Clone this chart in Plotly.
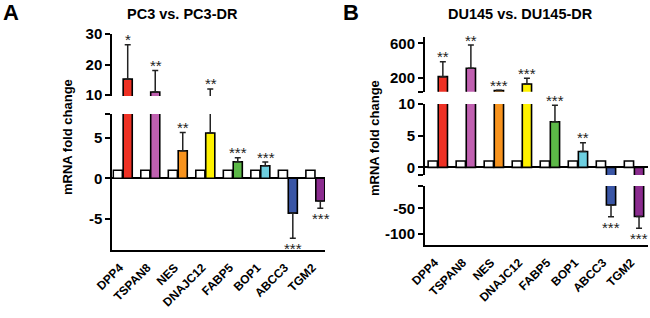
import plotly.graph_objects as go

genes = ['DPP4', 'TSPAN8', 'NES', 'DNAJC12', 'FABP5', 'BOP1', 'ABCC3', 'TGM2']
colors = ['#EE3124', '#C060B0', '#F7931E', '#FFF200', '#5CB847', '#6DCFE0', '#3A56A6', '#8B2C8F']

pc3_control = [1, 1, 1, 1, 1, 1, 1, 1]
pc3_fold = [15.2, 11.0, 3.4, 5.6, 2.05, 1.55, -4.3, -2.8]
pc3_err = [11.3, 7.0, 2.25, 6.4, 0.5, 0.45, 3.1, 0.9]
pc3_sig = ['*', '**', '**', '**', '***', '***', '***', '***']

du_control = [1, 1, 1, 1, 1, 1, 1, 1]
du_fold = [212, 309, 50, 127, 7.2, 2.5, -43.6, -66]
du_err = [174, 271, 3, 66, 2.6, 1.4, 22.7, 22.8]
du_sig = ['**', '**', '***', '***', '***', '**', '***', '***']

W, H = 650, 318
FONT = 'Liberation Sans, Arial, sans-serif'


def px_x(p):
    return p / W


def px_y(p):
    return 1 - p / H


fig = go.Figure()

segments = {
    'A': dict(x='x', xdom=(112.3, 325), xrange=[-0.38, 7.35], segs=[
        ('y', (34, 96), [9.67, 30], [10, 20, 30], ['10', '20', '30']),
        ('y2', (114, 250), [-8.85, 7.94], [-5, 0, 5, 7.94], ['-5', '0', '5', '']),
    ], control=pc3_control, fold=pc3_fold, err=pc3_err, sig=pc3_sig),
    'B': dict(x='x2', xdom=(425, 648), xrange=[-0.457, 7.5], segs=[
        ('y3', (36.7, 91.7), [37, 677], [37, 200, 600], ['', '200', '600']),
        ('y4', (104, 175), [-1.2, 10], [-1.2, 0, 5, 10], ['', '0', '5', '10']),
        ('y5', (186, 245), [-121.4, -6.6], [-100, -50, -6.6], ['-100', '-50', '']),
    ], control=du_control, fold=du_fold, err=du_err, sig=du_sig),
}

layout_axes = {}
annotations = []

for key, p in segments.items():
    xname = p['x']
    xlay = 'xaxis' + xname[1:]
    lowest = p['segs'][-1][0]
    layout_axes[xlay] = dict(
        domain=[px_x(p['xdom'][0]), px_x(p['xdom'][1])],
        range=p['xrange'], type='category', anchor=lowest, automargin=False,
        showline=True, linewidth=2, linecolor='black', ticks='',
        tickangle=-45, showgrid=False, zeroline=False,
        ticklabelstandoff=4, ticklabelshift=-3,
        tickfont=dict(family=FONT, size=12, color='black', weight='bold'),
    )
    up = [e if v >= 0 else 0 for v, e in zip(p['fold'], p['err'])]
    dn = [e if v < 0 else 0 for v, e in zip(p['fold'], p['err'])]
    for yname, (t, b), rng, tv, tt in p['segs']:
        ylay = 'yaxis' + yname[1:]
        layout_axes[ylay] = dict(
            domain=[px_y(b), px_y(t)], range=rng, anchor=xname, automargin=False,
            showline=True, linewidth=2, linecolor='black',
            ticks='outside', ticklen=5, tickwidth=2, tickcolor='black',
            tickvals=tv, ticktext=tt, showgrid=False,
            zeroline=(rng[0] < 0 < rng[1]), zerolinecolor='black', zerolinewidth=2,
            tickfont=dict(family=FONT, size=15, color='black', weight='bold'),
        )
        fig.add_trace(go.Bar(
            x=genes, y=p['control'], xaxis=xname, yaxis=yname,
            width=0.33, offset=-0.345,
            marker=dict(color='white', line=dict(color='black', width=1.6)),
            showlegend=False, hoverinfo='skip'))
        fig.add_trace(go.Bar(
            x=genes, y=p['fold'], xaxis=xname, yaxis=yname,
            width=0.33, offset=0.015,
            marker=dict(color=colors, line=dict(color='black', width=1.6)),
            error_y=dict(type='data', symmetric=False, array=up, arrayminus=dn,
                         color='#222222', thickness=1.5, width=3),
            showlegend=False, hoverinfo='skip'))
    for g, v, e, s in zip(genes, p['fold'], p['err'], p['sig']):
        tip = v + e if v >= 0 else v - e
        yname = None
        for yn, _, rng, _, _ in p['segs']:
            if rng[0] <= tip <= rng[1] + (rng[1] - rng[0]) * 0.3:
                yname = yn
                break
        if yname is None:
            yname = p['segs'][-1][0]
        annotations.append(dict(
            x=g, y=tip, xref=xname, yref=yname, text=s, showarrow=False,
            xshift=5.5,
            yanchor='bottom' if v >= 0 else 'top',
            yshift=-5.5 if v >= 0 else 0,
            font=dict(family=FONT, size=15, color='#222222')))

annotations += [
    dict(x=px_x(1), y=px_y(13), xref='paper', yref='paper', text='<b>A</b>', showarrow=False,
         xanchor='left', yanchor='middle', font=dict(family=FONT, size=22, color='black')),
    dict(x=px_x(183), y=px_y(14), xref='paper', yref='paper', text='<b>PC3 vs. PC3-DR</b>',
         showarrow=False, xanchor='center', yanchor='middle', font=dict(family=FONT, size=14.5, color='black')),
    dict(x=px_x(341), y=px_y(13), xref='paper', yref='paper', text='<b>B</b>', showarrow=False,
         xanchor='left', yanchor='middle', font=dict(family=FONT, size=22, color='black')),
    dict(x=px_x(520), y=px_y(14), xref='paper', yref='paper', text='<b>DU145 vs. DU145-DR</b>',
         showarrow=False, xanchor='center', yanchor='middle', font=dict(family=FONT, size=14.5, color='black')),
    dict(x=px_x(67), y=px_y(137), xref='paper', yref='paper', text='<b>mRNA fold change</b>',
         showarrow=False, textangle=-90, xanchor='center', yanchor='middle',
         font=dict(family=FONT, size=13, color='black')),
    dict(x=px_x(374), y=px_y(138), xref='paper', yref='paper', text='<b>mRNA fold change</b>',
         showarrow=False, textangle=-90, xanchor='center', yanchor='middle',
         font=dict(family=FONT, size=13, color='black')),
]

fig.update_layout(
    width=W, height=H, autosize=False,
    margin=dict(l=0, r=0, t=0, b=0),
    paper_bgcolor='white', plot_bgcolor='white',
    barmode='overlay', annotations=annotations,
    **layout_axes,
)

fig.write_html('out.html', config={'displayModeBar': False},
               post_script="document.body.style.margin='0';document.body.style.overflow='hidden';")
